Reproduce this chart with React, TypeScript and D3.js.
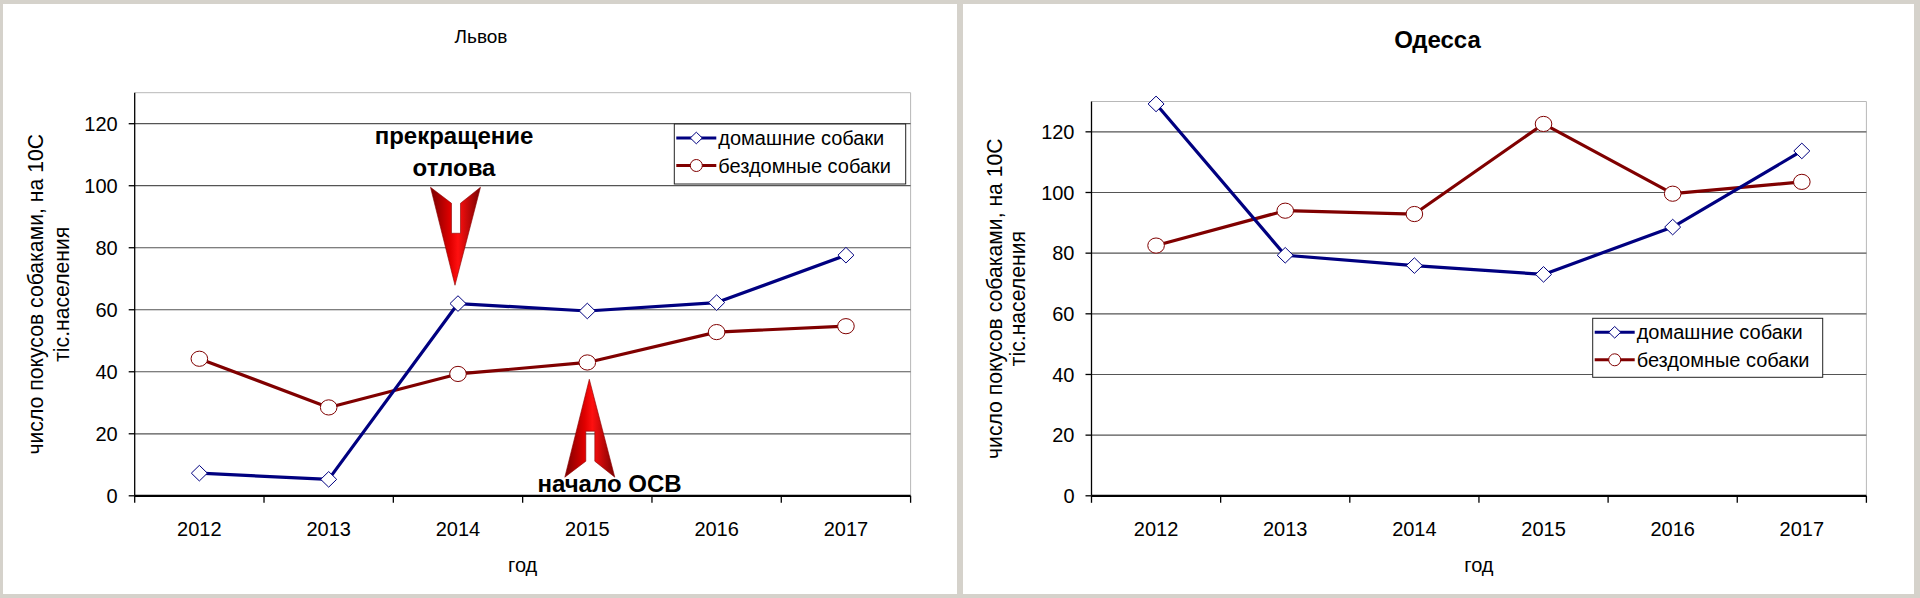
import * as d3 from "d3"

const years = ["2012", "2013", "2014", "2015", "2016", "2017"]
const yTicks = [0, 20, 40, 60, 80, 100, 120]

const lvivHome = [7.3, 5.3, 62.0, 59.6, 62.3, 77.6]
const lvivStray = [44.2, 28.5, 39.3, 43.0, 52.8, 54.7]
const odessaHome = [129.2, 79.3, 75.9, 73.0, 88.6, 113.7]
const odessaStray = [82.5, 94.0, 92.9, 122.6, 99.6, 103.5]

const seriesNames = ["домашние собаки", "бездомные собаки"]
const yLabel = ["число покусов собаками, на 10С", "тіс.населения"]
const xLabel = "год"

const FONT = "'Liberation Sans', Arial, sans-serif"
const BLUE = "#000080"
const RED = "#800000"

// arrow shape relative to its tip, pointing down (flip for up)
const arrowShape: [number, number][] = [
  [-24.5, -98], [-3.5, -82], [-3.5, -52], [5.5, -52], [5.5, -82], [25.5, -98], [0, 0],
]

interface PanelProps {
  title: string
  titleBold: boolean
  titleSize: number
  titleX: number
  titleY: number
  left: number
  right: number
  top: number
  bottom: number
  labelX: [number, number]
  home: number[]
  stray: number[]
  legend: { x: number; y: number; w: number; h: number }
  children?: (x: (d: string) => number, y: d3.ScaleLinear<number, number>) => any
}

function Diamond({ cx, cy }: { cx: number; cy: number }) {
  return (
    <path
      d={`M${cx},${cy - 7.8}L${cx + 8},${cy}L${cx},${cy + 7.8}L${cx - 8},${cy}Z`}
      fill="#fff"
      stroke={BLUE}
      strokeWidth={1}
    />
  )
}

function Ring({ cx, cy }: { cx: number; cy: number }) {
  return <ellipse cx={cx} cy={cy} rx={8.3} ry={7.6} fill="#fff" stroke={RED} strokeWidth={1} />
}

function Panel(p: PanelProps) {
  const xBand = d3.scaleBand<string>().domain(years).range([p.left, p.right]).padding(0)
  const xc = (d: string) => (xBand(d) as number) + xBand.bandwidth() / 2
  const y = d3.scaleLinear().domain([0, 130]).range([p.bottom, p.top])

  const line = d3
    .line<number>()
    .x((_, i) => xc(years[i]))
    .y((v) => y(v))

  const bounds = [...years.map((d) => xBand(d) as number), p.right]
  const midY = (p.top + p.bottom) / 2

  return (
    <g>
      <text
        x={p.titleX}
        y={p.titleY}
        textAnchor="middle"
        fontSize={p.titleSize}
        fontWeight={p.titleBold ? "bold" : "normal"}
        fontFamily={FONT}
      >
        {p.title}
      </text>

      {/* plot frame */}
      <line x1={p.left} x2={p.right} y1={p.top} y2={p.top} stroke="#b8b8b8" strokeWidth={1} />
      <line x1={p.right} x2={p.right} y1={p.top} y2={p.bottom} stroke="#b8b8b8" strokeWidth={1} />

      {/* gridlines */}
      {yTicks.slice(1).map((t) => (
        <line key={t} x1={p.left} x2={p.right} y1={y(t)} y2={y(t)} stroke="#555" strokeWidth={1.2} />
      ))}

      {/* y axis */}
      <line x1={p.left} x2={p.left} y1={p.top} y2={p.bottom} stroke="#000" strokeWidth={1.3} />
      {yTicks.map((t) => (
        <g key={t}>
          <line x1={p.left - 6} x2={p.left} y1={y(t)} y2={y(t)} stroke="#000" strokeWidth={1.3} />
          <text
            x={p.left - 17}
            y={y(t)}
            dy="0.36em"
            textAnchor="end"
            fontSize={20}
            fontFamily={FONT}
          >
            {t}
          </text>
        </g>
      ))}

      {/* x axis */}
      <line x1={p.left} x2={p.right} y1={p.bottom} y2={p.bottom} stroke="#000" strokeWidth={2.2} />
      {bounds.map((b, i) => (
        <line key={i} x1={b} x2={b} y1={p.bottom} y2={p.bottom + 7} stroke="#000" strokeWidth={1.3} />
      ))}
      {years.map((d) => (
        <text key={d} x={xc(d)} y={535.5} textAnchor="middle" fontSize={20} fontFamily={FONT}>
          {d}
        </text>
      ))}
      <text x={(p.left + p.right) / 2} y={571.5} textAnchor="middle" fontSize={20} fontFamily={FONT}>
        {xLabel}
      </text>

      {/* y label */}
      {yLabel.map((s, i) => (
        <text
          key={i}
          transform={`translate(${p.labelX[i]},${midY}) rotate(-90)`}
          textAnchor="middle"
          fontSize={21.2}
          fontFamily={FONT}
        >
          {s}
        </text>
      ))}

      {/* series */}
      <path d={line(p.stray) as string} fill="none" stroke={RED} strokeWidth={3.2} strokeLinejoin="round" />
      <path d={line(p.home) as string} fill="none" stroke={BLUE} strokeWidth={3.2} strokeLinejoin="round" />
      {p.home.map((v, i) => (
        <Diamond key={"h" + i} cx={xc(years[i])} cy={y(v)} />
      ))}
      {p.stray.map((v, i) => (
        <Ring key={"s" + i} cx={xc(years[i])} cy={y(v)} />
      ))}

      {p.children && p.children(xc, y)}

      {/* legend */}
      <g transform={`translate(${p.legend.x},${p.legend.y})`}>
        <rect x={0} y={0} width={p.legend.w} height={p.legend.h} fill="#fff" stroke="#222" strokeWidth={1} />
        {seriesNames.map((s, i) => {
          const ry = 14 + i * 27.5
          return (
            <g key={s}>
              <line x1={2} x2={42} y1={ry} y2={ry} stroke={i === 0 ? BLUE : RED} strokeWidth={3} />
              {i === 0 ? (
                <path
                  d={`M22,${ry - 5.8}L28,${ry}L22,${ry + 5.8}L16,${ry}Z`}
                  fill="#fff"
                  stroke={BLUE}
                  strokeWidth={1}
                />
              ) : (
                <circle cx={22} cy={ry} r={6} fill="#fff" stroke={RED} strokeWidth={1} />
              )}
              <text x={44} y={ry} dy="0.36em" fontSize={20} fontFamily={FONT}>
                {s}
              </text>
            </g>
          )
        })}
      </g>
    </g>
  )
}

function Arrow({ tx, ty, up }: { tx: number; ty: number; up: boolean }) {
  const pts = arrowShape.map(([dx, dy]) => `${tx + dx},${ty + (up ? -dy : dy)}`).join(" ")
  return <polygon points={pts} fill="url(#arrowGrad)" stroke="#8a0000" strokeWidth={0.6} />
}

export default function App() {
  return (
    <svg
      width={1920}
      height={598}
      style={{ position: "absolute", left: 0, top: 0, display: "block" }}
    >
      <defs>
        <linearGradient id="arrowGrad" x1="0" x2="1" y1="0" y2="0">
          <stop offset="0%" stopColor="#7a0000" />
          <stop offset="40%" stopColor="#e00000" />
          <stop offset="55%" stopColor="#ff1010" />
          <stop offset="100%" stopColor="#7a0000" />
        </linearGradient>
      </defs>
      <rect x={0} y={0} width={1920} height={598} fill="#d5d2cb" />
      <rect x={3} y={4} width={954} height={590} fill="#fff" />
      <rect x={963} y={4} width={951} height={590} fill="#fff" />

      <Panel
        title="Львов"
        titleBold={false}
        titleSize={19}
        titleX={481}
        titleY={42.5}
        left={134.7}
        right={910.6}
        top={92.7}
        bottom={495.8}
        labelX={[42.7, 69]}
        home={lvivHome}
        stray={lvivStray}
        legend={{ x: 674.3, y: 124, w: 231.4, h: 60 }}
      >
        {(xc, y) => (
          <g>
            <Arrow tx={xc("2014") - 3} ty={y(67.9)} up={false} />
            <Arrow tx={xc("2015") + 2} ty={y(37.6)} up={true} />
            <text x={454} y={144} textAnchor="middle" fontSize={24} fontWeight="bold" fontFamily={FONT}>
              прекращение
            </text>
            <text x={454} y={176} textAnchor="middle" fontSize={24} fontWeight="bold" fontFamily={FONT}>
              отлова
            </text>
            <text x={609.5} y={491.5} textAnchor="middle" fontSize={24} fontWeight="bold" fontFamily={FONT}>
              начало ОСВ
            </text>
          </g>
        )}
      </Panel>

      <Panel
        title="Одесса"
        titleBold={true}
        titleSize={24}
        titleX={1437.5}
        titleY={48.3}
        left={1091.5}
        right={1866.4}
        top={101.5}
        bottom={495.8}
        labelX={[1001.7, 1025]}
        home={odessaHome}
        stray={odessaStray}
        legend={{ x: 1592.7, y: 318.3, w: 230, h: 59 }}
      />
    </svg>
  )
}
